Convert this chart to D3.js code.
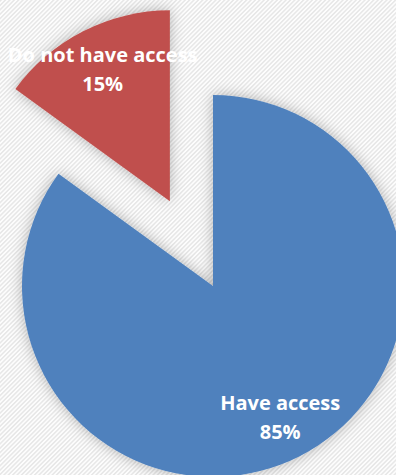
<!DOCTYPE html>
<html>
<head>
<meta charset="utf-8">
<script src="https://cdn.jsdelivr.net/npm/d3@7"></script>
<style>
  html, body { margin: 0; padding: 0; background: #fff; }
  svg { display: block; }
</style>
</head>
<body>
<svg id="chart" width="396" height="475"></svg>
<script>
// Share of respondents by access
const categories = ["Have access", "Do not have access"];
const values = [85, 15];
const colors = ["#4F81BD", "#C0504D"];
const explode = [0, 95];

const width = 396, height = 475;
const cx = 213, cy = 286, radius = 191, labelRadius = 148;

const svg = d3.select("#chart");
const defs = svg.append("defs");

// diagonal hatched background
const pat = defs.append("pattern")
  .attr("id", "hatch")
  .attr("patternUnits", "userSpaceOnUse")
  .attr("width", 3.1).attr("height", 3.1)
  .attr("patternTransform", "rotate(-45)");
pat.append("rect").attr("width", 3.1).attr("height", 3.1).attr("fill", "#fdfdfd");
pat.append("rect").attr("width", 3.1).attr("height", 1.5).attr("fill", "#e7e7e7");

svg.append("rect").attr("width", width).attr("height", height).attr("fill", "url(#hatch)");

// soft shadow round the slices
const f = defs.append("filter").attr("id", "glow")
  .attr("x", "-30%").attr("y", "-30%").attr("width", "160%").attr("height", "160%");
f.append("feDropShadow").attr("dx", 0).attr("dy", 0)
  .attr("stdDeviation", 7).attr("flood-color", "#000").attr("flood-opacity", 0.28);

const pie = d3.pie().sort(null).startAngle(0).endAngle(2 * Math.PI);
const arcs = pie(values);
const arc = d3.arc().innerRadius(0).outerRadius(radius);
const labelArc = d3.arc().innerRadius(labelRadius).outerRadius(labelRadius);

const g = svg.append("g").attr("transform", `translate(${cx},${cy})`);

const slices = g.selectAll("g.slice").data(arcs).join("g")
  .attr("class", "slice")
  .attr("transform", (d, i) => {
    const a = (d.startAngle + d.endAngle) / 2;
    return `translate(${Math.sin(a) * explode[i]},${-Math.cos(a) * explode[i]})`;
  });

slices.append("path")
  .attr("d", arc)
  .attr("fill", (d, i) => colors[i])
  .attr("filter", "url(#glow)");

slices.each(function (d, i) {
  const [lx, ly] = labelArc.centroid(d);
  const t = d3.select(this).append("text")
    .attr("text-anchor", "middle")
    .attr("font-family", "'Open Sans', Lato, sans-serif")
    .attr("font-weight", "bold")
    .attr("font-size", 20)
    .attr("fill", "#fff");
  t.append("tspan").attr("x", lx).attr("y", ly - 7.5).text(categories[i]);
  t.append("tspan").attr("x", lx).attr("y", ly + 21.5).text(values[i] + "%");
});
</script>
</body>
</html>
